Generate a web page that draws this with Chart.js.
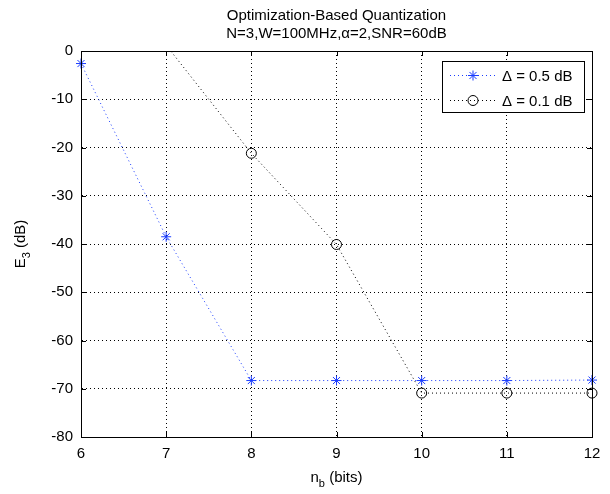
<!DOCTYPE html>
<html>
<head>
<meta charset="utf-8">
<script src="https://cdn.jsdelivr.net/npm/chart.js@4.4.0/dist/chart.umd.min.js"></script>
<style>
  html, body { margin: 0; padding: 0; background: #fff; }
  #wrap { width: 610px; height: 494px; }
</style>
</head>
<body>
<div id="wrap"><canvas id="plot"></canvas></div>
<script>
// values
const nb = [6, 7, 8, 9, 10, 11, 12];                         // n_b (bits)
const e05 = [-2.6, -38.5, -68.3, -68.3, -68.3, -68.3, -68.2]; // Delta = 0.5 dB
const e01 = [null, 1.2, -21.2, -40.1, -70.9, -70.9, -70.9];   // Delta = 0.1 dB (point at 7 sits above the top)
const xTicks = [6, 7, 8, 9, 10, 11, 12];
const yTicks = [0, -10, -20, -30, -40, -50, -60, -70, -80];
const titleLines = ['Optimization-Based Quantization', 'N=3,W=100MHz,\u03b1=2,SNR=60dB'];
const seriesNames = ['\u0394 = 0.5 dB', '\u0394 = 0.1 dB'];

const FONT = '"Liberation Sans", Arial, sans-serif';
const FS = 15, SUB = 11;
const BLUE = '#1a3cff';

const toPts = (ys) => nb.map((x, i) => ({x: x, y: ys[i]})).filter(p => p.y !== null);

// matlab-ish frame, inward ticks, titles and legend
const matlabBits = {
    id: 'matlabBits',
    afterDraw(chart) {
        const ctx = chart.ctx;
        const a = chart.chartArea;
        const xs = chart.scales.x, ys = chart.scales.y;
        ctx.save();
        ctx.strokeStyle = '#000';
        ctx.lineWidth = 1;
        ctx.strokeRect(Math.round(a.left) + 0.5, Math.round(a.top) + 0.5,
                       Math.round(a.right - a.left), Math.round(a.bottom - a.top));
        ctx.beginPath();
        xTicks.forEach(v => {
            const px = Math.round(xs.getPixelForValue(v)) + 0.5;
            ctx.moveTo(px, a.bottom); ctx.lineTo(px, a.bottom - 5);
            ctx.moveTo(px, a.top); ctx.lineTo(px, a.top + 5);
        });
        yTicks.forEach(v => {
            const py = Math.round(ys.getPixelForValue(v)) + 0.5;
            ctx.moveTo(a.left, py); ctx.lineTo(a.left + 5, py);
            ctx.moveTo(a.right, py); ctx.lineTo(a.right - 5, py);
        });
        ctx.stroke();

        const big = FS + 'px ' + FONT, small = SUB + 'px ' + FONT;

        // titles
        ctx.fillStyle = '#000';
        ctx.font = big;
        ctx.textAlign = 'center';
        ctx.textBaseline = 'middle';
        const cx = (a.left + a.right) / 2;
        ctx.fillText(titleLines[0], cx, 16);
        ctx.fillText(titleLines[1], cx, 34);

        // x label with subscript
        ctx.textAlign = 'left';
        const w1 = ctx.measureText('n').width;
        ctx.font = small;
        const w2 = ctx.measureText('b').width;
        ctx.font = big;
        const w3 = ctx.measureText(' (bits)').width;
        let sx = cx - (w1 + w2 + w3) / 2;
        const ly = 478;
        ctx.fillText('n', sx, ly);
        ctx.font = small;
        ctx.fillText('b', sx + w1, ly + 6);
        ctx.font = big;
        ctx.fillText(' (bits)', sx + w1 + w2, ly);

        // y label, rotated
        ctx.save();
        ctx.translate(21, (a.top + a.bottom) / 2);
        ctx.rotate(-Math.PI / 2);
        const v1 = ctx.measureText('E').width;
        ctx.font = small;
        const v2 = ctx.measureText('3').width;
        ctx.font = big;
        const v3 = ctx.measureText(' (dB)').width;
        sx = -(v1 + v2 + v3) / 2;
        ctx.fillText('E', sx, 0);
        ctx.font = small;
        ctx.fillText('3', sx + v1, 6);
        ctx.font = big;
        ctx.fillText(' (dB)', sx + v1 + v2, 0);
        ctx.restore();

        // legend box
        const bx = 442, by = 61, bw = 142, bh = 51;
        ctx.fillStyle = '#fff';
        ctx.fillRect(bx, by, bw, bh);
        ctx.strokeStyle = '#000';
        ctx.strokeRect(bx + 0.5, by + 0.5, bw, bh);
        chart.data.datasets.forEach((ds, i) => {
            const ry = by + 14.5 + i * 25;
            ctx.strokeStyle = ds.borderColor;
            ctx.setLineDash([1, 3]);
            ctx.beginPath();
            ctx.moveTo(bx + 8, ry); ctx.lineTo(bx + 56, ry);
            ctx.stroke();
            ctx.setLineDash([]);
            const mx = bx + 31, r = 5;
            ctx.beginPath();
            if (ds.pointStyle === 'star') {
                for (let k = 0; k < 4; k++) {
                    const ang = k * Math.PI / 4;
                    ctx.moveTo(mx - r * Math.cos(ang), ry - r * Math.sin(ang));
                    ctx.lineTo(mx + r * Math.cos(ang), ry + r * Math.sin(ang));
                }
            } else {
                ctx.arc(mx, ry, r, 0, Math.PI * 2);
            }
            ctx.stroke();
            ctx.fillStyle = '#000';
            ctx.font = big;
            ctx.textAlign = 'left';
            ctx.textBaseline = 'middle';
            ctx.fillText(seriesNames[i], bx + 60, ry + 1);
        });
        ctx.restore();
    }
};

new Chart(document.getElementById('plot'), {
    type: 'line',
    data: {
        datasets: [
            {
                label: seriesNames[0],
                data: toPts(e05),
                borderColor: BLUE,
                backgroundColor: BLUE,
                borderWidth: 1,
                borderDash: [1, 3],
                pointStyle: 'star',
                pointRadius: 5,
                pointBorderWidth: 1,
                pointHoverRadius: 5,
                clip: {left: false, right: false, top: 0, bottom: false}
            },
            {
                label: seriesNames[1],
                data: toPts(e01),
                borderColor: '#000',
                backgroundColor: 'rgba(0,0,0,0)',
                borderWidth: 1,
                borderDash: [1, 3],
                pointStyle: 'circle',
                pointRadius: 5,
                pointBorderWidth: 1,
                pointHoverRadius: 5,
                clip: {left: false, right: false, top: 0, bottom: false}
            }
        ]
    },
    options: {
        responsive: true,
        maintainAspectRatio: false,
        animation: false,
        layout: { padding: { left: 0, top: 51, right: 18, bottom: 0 } },
        scales: {
            x: {
                type: 'linear',
                min: 6, max: 12,
                afterFit: (s) => { s.height = 57; },
                afterBuildTicks: (s) => { s.ticks = xTicks.map(v => ({value: v})); },
                ticks: { color: '#000', font: { family: FONT, size: FS }, padding: 8, maxRotation: 0 },
                grid: { color: '#000', lineWidth: 1, drawTicks: false },
                border: { color: '#000', dash: [1, 3] }
            },
            y: {
                min: -80, max: 0,
                afterFit: (s) => { s.width = 81; },
                afterBuildTicks: (s) => { s.ticks = yTicks.map(v => ({value: v})); },
                ticks: { color: '#000', font: { family: FONT, size: FS }, padding: 8 },
                grid: { color: '#000', lineWidth: 1, drawTicks: false },
                border: { color: '#000', dash: [1, 3] }
            }
        },
        plugins: {
            legend: { display: false },
            title: { display: false },
            tooltip: { enabled: false }
        }
    },
    plugins: [matlabBits]
});
</script>
</body>
</html>
